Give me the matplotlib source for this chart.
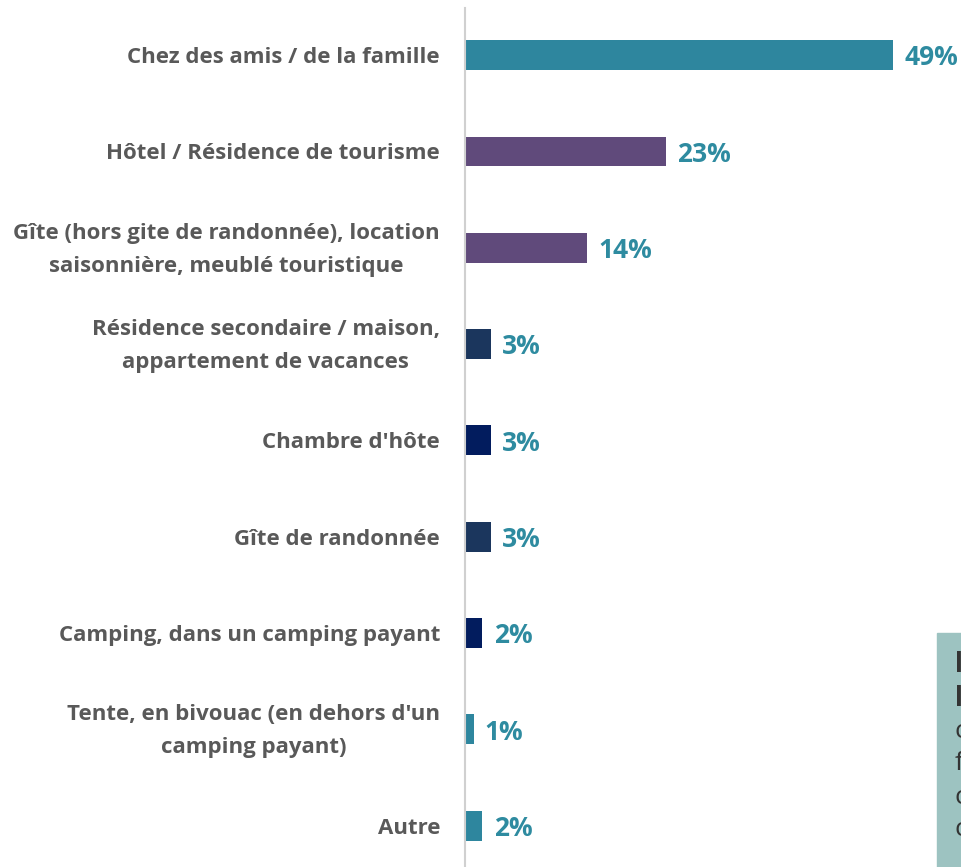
import matplotlib
matplotlib.use("Agg")
import matplotlib.pyplot as plt
from matplotlib.patches import Rectangle
import matplotlib.transforms as mtrans

categories = [
    "Chez des amis / de la famille",
    "Hôtel / Résidence de tourisme",
    "Gîte (hors gite de randonnée), location\nsaisonnière, meublé touristique",
    "Résidence secondaire / maison,\nappartement de vacances",
    "Chambre d'hôte",
    "Gîte de randonnée",
    "Camping, dans un camping payant",
    "Tente, en bivouac (en dehors d'un\ncamping payant)",
    "Autre",
]
values = [49, 23, 14, 3, 3, 3, 2, 1, 2]
labels = ["49%", "23%", "14%", "3%", "3%", "3%", "2%", "1%", "2%"]
colors = ["#2E869E", "#604A7B", "#604A7B", "#1B365D", "#021C5E",
          "#1B365D", "#021C5E", "#2E869E", "#2E869E"]

W, H = 961, 867
fig = plt.figure(figsize=(W / 100, H / 100), dpi=100)
ax = fig.add_axes([465 / W, 0, 1 - 465 / W, 1 - 8 / H])
fam = ["Open Sans", "DejaVu Sans"]

y = list(range(len(categories)))
ax.barh(y, values, height=0.31, color=colors, zorder=2)
ax.set_xlim(0, 496 / (428 / 49))
ax.set_ylim(8.43, -0.49)

for yi, v, lab in zip(y, values, labels):
    ax.annotate(lab, (v, yi), xytext=(8, -2), textcoords="offset points",
                va="center", ha="left", fontsize=19, fontweight="bold",
                color="#2E8BA0", family=fam)

ax.set_yticks(y)
ax.set_yticklabels(categories, fontsize=16, fontweight="bold",
                   color="#595959", family=fam, ha="center",
                   multialignment="center", linespacing=1.75)
ax.tick_params(axis="y", length=0, pad=0)
ax.tick_params(axis="x", bottom=False, labelbottom=False)
for s in ["top", "right", "bottom"]:
    ax.spines[s].set_visible(False)
ax.spines["left"].set_color("#D0D0D0")
ax.spines["left"].set_linewidth(1.5)

# partially visible note box at bottom-right (cropped in the original)
fig.patches.append(Rectangle((937 / W, 0), (W - 937) / W, (H - 633) / H,
                             transform=fig.transFigure, color="#9DC3C1",
                             zorder=0))
box_lines = [("l", "bold"), ("l", "bold"), ("c", "normal"),
             ("f", "normal"), ("c", "normal"), ("c", "normal")]
for i, (txt, wt) in enumerate(box_lines):
    fig.text(955 / W, 1 - (665 + i * 33) / H, txt, fontsize=19,
             fontweight=wt, color="#333333", va="center", ha="left",
             family=fam)

fig.canvas.draw()
renderer = fig.canvas.get_renderer()
ticks = ax.get_yticklabels()
widths = [t.get_window_extent(renderer).width for t in ticks]
for t, w, cat in zip(ticks, widths, categories):
    dy = 6.5 if "\n" in cat else 0
    off = mtrans.ScaledTranslation(-(25 + w / 2) / 100, dy / 100,
                                   fig.dpi_scale_trans)
    t.set_transform(ax.get_yaxis_transform() + off)

fig.savefig("out.png", dpi=100)
